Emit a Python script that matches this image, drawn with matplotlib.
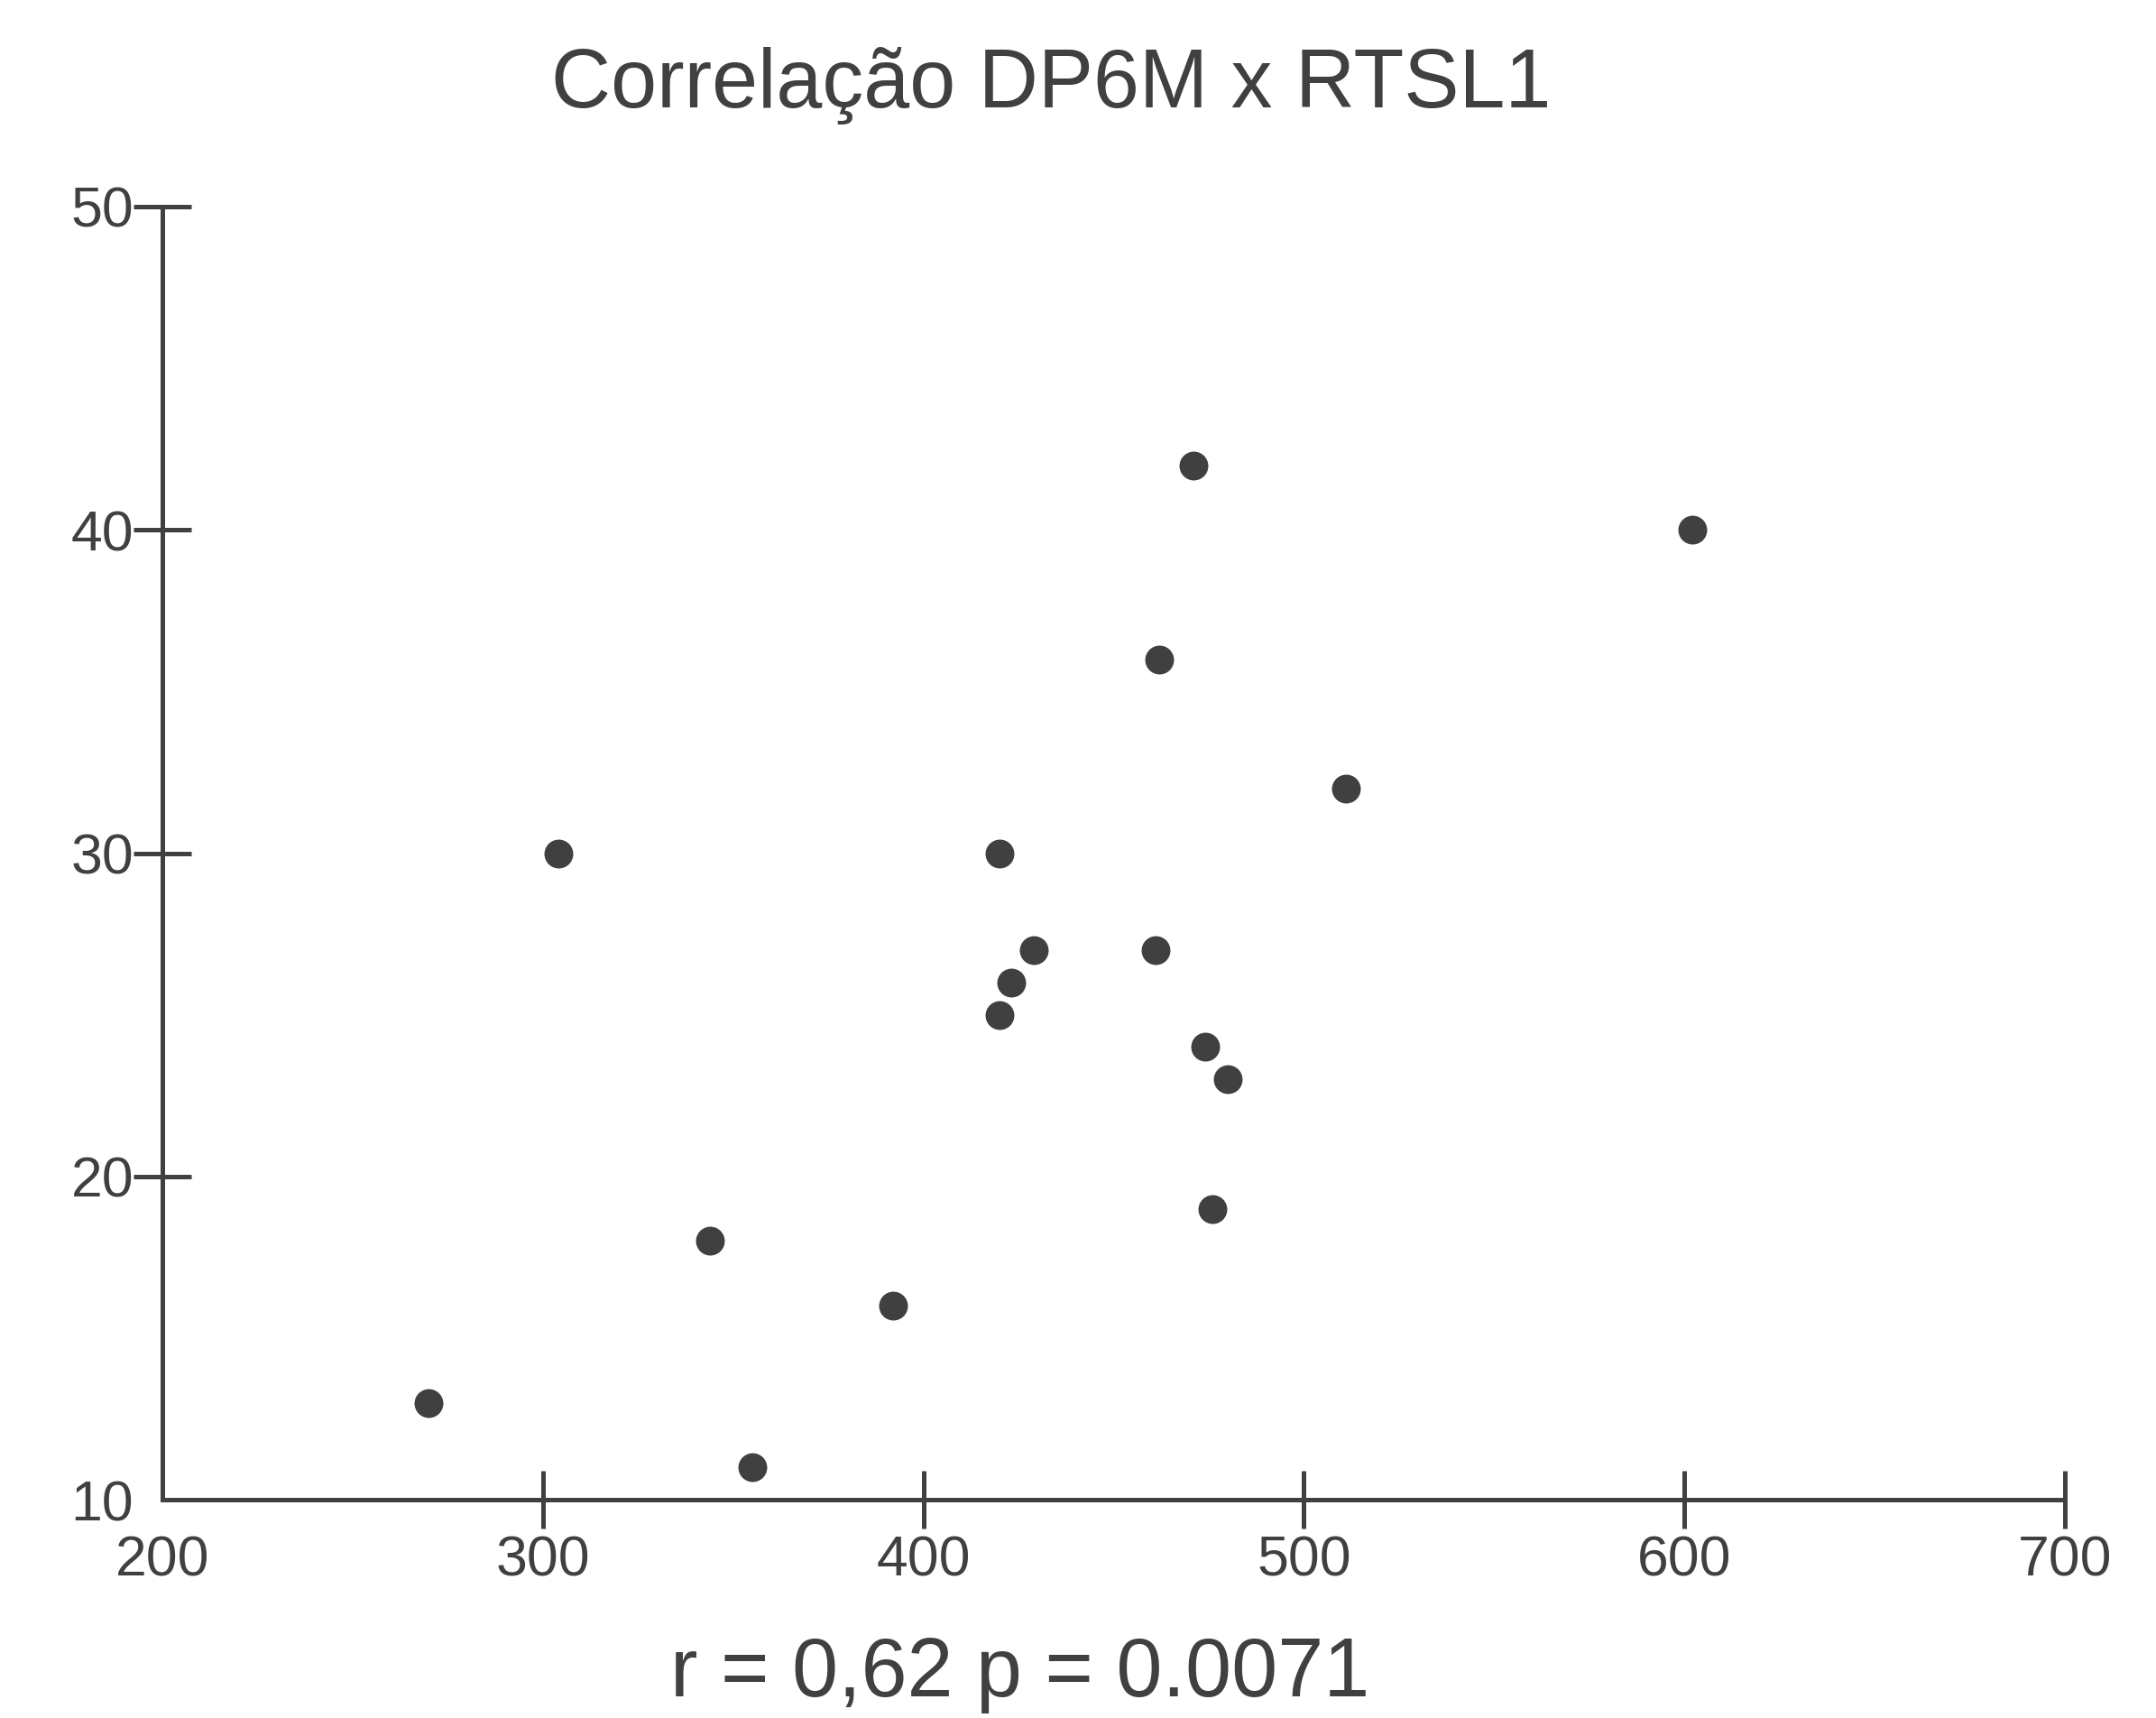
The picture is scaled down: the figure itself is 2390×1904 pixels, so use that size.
import matplotlib
matplotlib.use("Agg")
import matplotlib.pyplot as plt

# Data
dp6m = [270, 304, 344, 355, 392, 420, 420, 423, 429, 461, 462, 471, 474, 480, 476, 511, 602]
rtsl1 = [13, 30, 18, 11, 16, 30, 25, 26, 27, 27, 36, 42, 24, 23, 19, 32, 40]

x_ticks = [200, 300, 400, 500, 600, 700]
y_ticks = [10, 20, 30, 40, 50]

title = "Correlação DP6M x RTSL1"
stats_text = "r = 0,62 p = 0.0071"

C = "#404040"
plt.rcParams['font.family'] = ['Liberation Sans', 'DejaVu Sans']

W, H = 2390, 1904
fig = plt.figure(figsize=(W / 100, H / 100), dpi=100)
ax = fig.add_axes([180 / W, 1 - 1662 / H, (2289 - 180) / W, (1662 - 229) / H])

ax.plot(dp6m, rtsl1, linestyle='none', marker='o', markersize=23, color=C,
        markeredgewidth=0, clip_on=False)

ax.set_xlim(200, 700)
ax.set_ylim(10, 50)
ax.set_xticks(x_ticks)
ax.set_yticks(y_ticks)
ax.set_xticklabels([str(v) for v in x_ticks])
ax.set_yticklabels([str(v) for v in y_ticks])

for s in ['top', 'right']:
    ax.spines[s].set_visible(False)
for s in ['left', 'bottom']:
    ax.spines[s].set_color(C)
    ax.spines[s].set_linewidth(3.6)

ax.tick_params(axis='both', direction='inout', length=46, width=3.6, color=C,
               labelcolor=C, labelsize=45)
ax.tick_params(axis='y', pad=0)
ax.tick_params(axis='x', pad=5)

# hide the tick marks at the origin corner (labels stay)
ax.xaxis.get_major_ticks()[0].tick1line.set_visible(False)
ax.yaxis.get_major_ticks()[0].tick1line.set_visible(False)

fig.text(1165 / W, 1 - 119 / H, title, ha='center', va='baseline',
         fontsize=66, color=C)
fig.text(1131 / W, 1 - 1880 / H, stats_text, ha='center', va='baseline',
         fontsize=66, color=C)

fig.savefig("out.png", dpi=100)
